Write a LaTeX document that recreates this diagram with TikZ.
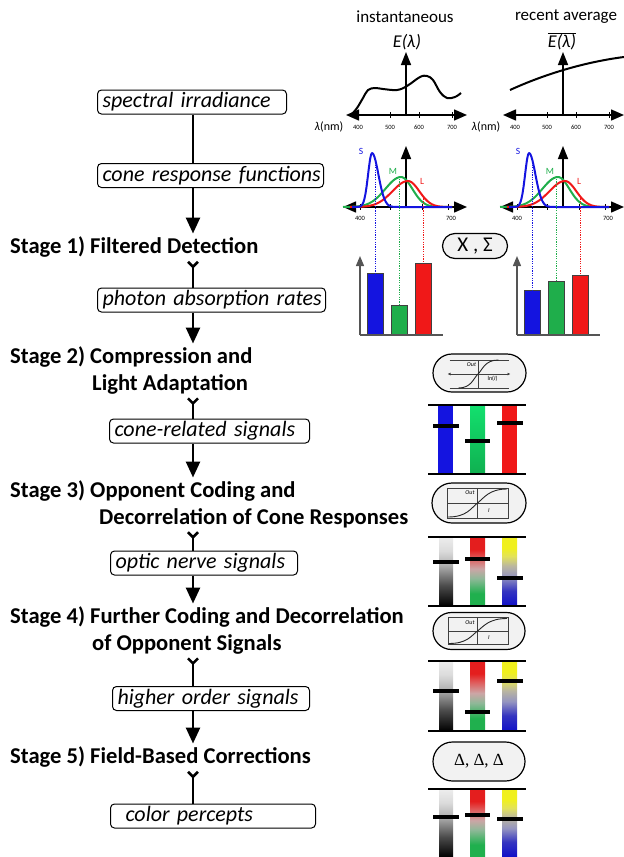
\documentclass[tikz,border=0pt]{standalone}
\usepackage{fontspec}
\setmainfont{Carlito}
\newfontfamily\timesgreek{Liberation Serif}
\usetikzlibrary{arrows.meta,shapes.misc}
\definecolor{sblue}{HTML}{1414E0}
\definecolor{mgreen}{HTML}{1FAE4B}
\definecolor{lred}{HTML}{F01818}
\definecolor{pillfill}{HTML}{F2F2F2}
\definecolor{axisgray}{HTML}{555555}
\definecolor{gtop}{HTML}{12E06E}
\definecolor{gbase}{HTML}{10B050}
% vertical ramps for the opponent channels (stops from bottom, 25bp..75bp span the bar)
\pgfdeclareverticalshading{achroramp}{100bp}{color(0bp)=(black); color(25bp)=(black);
  color(40bp)=(black!70); color(55bp)=(black!30); color(65bp)=(black!14); color(75bp)=(black!7); color(100bp)=(black!7)}
\definecolor{rgA}{HTML}{20B04E}
\definecolor{rgB}{HTML}{8FB898}
\definecolor{rgC}{HTML}{CCA6A6}
\definecolor{rgD}{HTML}{E05A5A}
\definecolor{rgE}{HTML}{E41E1E}
\pgfdeclareverticalshading{rgramp}{100bp}{color(0bp)=(rgA); color(25bp)=(rgA); color(34bp)=(rgA);
  color(45bp)=(rgB); color(52bp)=(rgC); color(60bp)=(rgD); color(66bp)=(rgE); color(75bp)=(rgE); color(100bp)=(rgE)}
\definecolor{ybA}{HTML}{1010C8}
\definecolor{ybB}{HTML}{3434C0}
\definecolor{ybC}{HTML}{9494C0}
\definecolor{ybD}{HTML}{BAB6A0}
\definecolor{ybE}{HTML}{E2E25A}
\definecolor{ybF}{HTML}{F0F01E}
\pgfdeclareverticalshading{ybramp}{100bp}{color(0bp)=(ybA); color(25bp)=(ybA); color(36bp)=(ybB);
  color(46bp)=(ybC); color(54bp)=(ybD); color(61bp)=(ybE); color(67bp)=(ybF); color(75bp)=(ybF); color(100bp)=(ybF)}
\begin{document}
\begin{tikzpicture}[x=1pt,y=-1pt,
  spineline/.style={line width=2.6pt},
  flowarrow/.style={spineline,-{Triangle[length=16pt,width=14pt]},shorten >=3pt},
  tailarrow/.style={spineline,{Straight Barb[reversed,length=5pt,width=10pt]}-,shorten <=3pt},
  sigbox/.style={draw, line width=1pt, rounded corners=4pt, anchor=west, align=left,
    inner xsep=5pt, inner ysep=1pt, minimum height=24pt,
    font=\itshape\fontsize{22}{24}\selectfont},
  stagetext/.style={anchor=west, inner sep=0pt, font=\bfseries\fontsize{22.6}{25}\selectfont},
  toplabel/.style={font=\fontsize{17}{19}\selectfont},
  plotaxis/.style={line width=1.5pt},
  twotips/.style={{Triangle[length=13pt,width=11pt]}-{Triangle[length=13pt,width=11pt]}},
  uptip/.style={-{Triangle[length=13pt,width=10pt]}},
  tickmark/.style={line width=0.8pt},
  ticklabel/.style={font=\fontsize{6.5}{7}\selectfont, inner sep=0pt},
  response/.style={line width=2pt, line join=round},
  guide/.style={line width=0.9pt, dash pattern=on 1.2pt off 1.2pt},
  chartaxis/.style={line width=1.3pt, draw=axisgray},
  barframe/.style={draw=black!75, line width=0.8pt},
  pill/.style={rounded rectangle, draw, line width=1.2pt, fill=pillfill, inner sep=0pt},
  iconline/.style={line width=0.7pt, draw=black!75},
  iconcurve/.style={line width=0.9pt, draw=black!85},
  iconlabel/.style={font=\itshape\fontsize{6}{7}\selectfont, inner sep=0pt},
  panelrule/.style={line width=2pt},
  level/.style={line width=3.2pt}
]
\useasboundingbox (0,0) rectangle (624,857);

% ---------------- processing chain ----------------
\coordinate (spine) at (193,0);
\node[sigbox, text width=179pt] (spec) at (97,102) {\mbox{spectral irradiance}};
\node[sigbox, text width=216pt] (coneresp) at (97,175.5) {\mbox{cone response functions}};
\node[stagetext] (st1) at (10,247) {Stage 1) Filtered Detection};
\node[sigbox, text width=218pt] (photon) at (97,300) {\mbox{photon absorption rates}};
\node[stagetext] (st2a) at (10,357) {Stage 2) Compression and};
\node[stagetext] (st2b) at (92,384) {Light Adaptation};
\node[sigbox, text width=190pt] (conesig) at (109,431) {\mbox{cone-related signals}};
\node[stagetext] (st3a) at (10,491) {Stage 3) Opponent Coding and};
\node[stagetext] (st3b) at (99,518) {Decorrelation of Cone Responses};
\node[sigbox, text width=177pt] (optic) at (110,563) {\mbox{optic nerve signals}};
\node[stagetext] (st4a) at (10,617) {Stage 4) Further Coding and Decorrelation};
\node[stagetext] (st4b) at (92,644) {of Opponent Signals};
\node[sigbox, text width=187pt] (higher) at (112,698.5) {\mbox{higher order signals}};
\node[stagetext] (st5) at (10,757) {Stage 5) Field-Based Corrections};
\node[sigbox, text width=195pt] (percept) at (110,816) {\mbox{\hspace*{10pt}color percepts}};

\draw[spineline] (spec.south -| spine) -- (coneresp.north -| spine);
\draw[flowarrow] (coneresp.south -| spine) -- (st1.north -| spine);
\draw[tailarrow] (st1.south -| spine) -- (photon.north -| spine);
\draw[flowarrow] (photon.south -| spine) -- (st2a.north -| spine);
\draw[tailarrow] (st2b.south -| spine) -- (conesig.north -| spine);
\draw[flowarrow] (conesig.south -| spine) -- (st3a.north -| spine);
\draw[tailarrow] (st3b.south -| spine) -- (optic.north -| spine);
\draw[flowarrow] (optic.south -| spine) -- (st4a.north -| spine);
\draw[tailarrow] (st4b.south -| spine) -- (higher.north -| spine);
\draw[flowarrow] (higher.south -| spine) -- (st5.north -| spine);
\draw[tailarrow] (st5.south -| spine) -- (percept.north -| spine);

% ---------------- spectral irradiance plots ----------------
\node[toplabel] (instlbl) at (405,17) {instantaneous};
\node[toplabel] (avglbl) at (566,17) {recent average};
\node[font=\itshape\fontsize{18}{20}\selectfont] (elbl) at (407,42) {E(λ)};
\node[font=\itshape\fontsize{18}{20}\selectfont] (ebarlbl) at (562,41) {$\overline{\hbox{\itshape E(λ)}}$};

\foreach \dx in {0,157} {
  \begin{scope}[shift={(\dx,0)}]
    \draw[plotaxis, twotips] (346,115) -- (467,115);
    \draw[plotaxis, uptip] (406,115) -- (406,52);
    \foreach \t/\lab in {358/400,390/500,419/600,452/700} {
      \draw[tickmark] (\t,112) -- (\t,118);
      \node[ticklabel] (tick-\dx-\lab) at (\t,127) {\lab};
    }
    \node[font=\fontsize{12}{13}\selectfont, inner sep=0pt] (nm-\dx) at (329,127) {\textit{λ}(nm)};
  \end{scope}
}
% instantaneous spectrum
\draw[line width=2pt, line join=round] plot[smooth, tension=0.6] coordinates {
  (351,115) (357,108) (363,98) (368,90) (375,88) (383,89) (397,90) (407,86)
  (420,77) (427,76) (433,80) (440,92) (447,98) (455,97) (461,93)};
% running average spectrum
\draw[line width=2pt] (510,90) .. controls (545,74) and (585,62) .. (624,57);

% ---------------- cone response functions and absorptions ----------------
\foreach \dx/\hb/\hg/\hr in {0/273/305/263, 157/290/281/275} {
  \begin{scope}[shift={(\dx,0)}]
    \draw[plotaxis, twotips] (343,207) -- (467,207);
    \draw[plotaxis, uptip] (406,207) -- (406,146);
    \foreach \t in {360,390,422,448} {
      \draw[tickmark] (\t,204) -- (\t,210);
    }
    \node[ticklabel] (low-\dx) at (360,218) {400};
    \node[ticklabel] (high-\dx) at (451,218) {700};
    % response curves
    \draw[response, mgreen] plot[domain=343:452, samples=80]
      (\x, {207-30*exp(-((\x-401)/ifthenelse(\x<401,22,16))^2)});
    \draw[response, lred] plot[domain=350:452, samples=80]
      (\x, {207-26*exp(-((\x-408)/ifthenelse(\x<408,22,16))^2)});
    \draw[response, sblue] plot[domain=352:452, samples=90]
      (\x, {207-54*exp(-((\x-372)/ifthenelse(\x<372,5.5,9))^2)});
    \node[font=\fontsize{9.5}{10}\selectfont, text=sblue, inner sep=0pt] (slbl-\dx) at (361,151) {S};
    \node[font=\fontsize{9.5}{10}\selectfont, text=mgreen, inner sep=0pt] (mlbl-\dx) at (393,171) {M};
    \node[font=\fontsize{9.5}{10}\selectfont, text=lred, inner sep=0pt] (llbl-\dx) at (422,181) {L};
    % absorption bars
    \draw[barframe, fill=sblue] (367,\hb) rectangle (383,335);
    \draw[barframe, fill=mgreen] (391,\hg) rectangle (407,335);
    \draw[barframe, fill=lred] (415,\hr) rectangle (431,335);
    \draw[guide, sblue] (375,160) -- (375,\hb);
    \draw[guide, mgreen] (399,179) -- (399,\hg);
    \draw[guide, lred] (423,196) -- (423,\hr);
    \draw[chartaxis] (360,335) -- (443,335);
    \draw[chartaxis, -{Triangle[length=10pt,width=8pt]}] (360,335) -- (360,256);
  \end{scope}
}
\node[pill, minimum width=65pt, minimum height=25pt, font=\fontsize{21}{23}\selectfont] (mixer) at (475,246) {X , Σ};

% ---------------- right column: stage operations ----------------
% Stage 2: compressive nonlinearity on ln(I)
\node[pill, minimum width=93pt, minimum height=38pt] (compicon) at (479.5,373) {};
\begin{scope}[shift={(compicon.center)}]
  \draw[iconline] (-30,-13) -- (29,-13);
  \draw[iconline] (-30,15) -- (29,15);
  \draw[iconline, {Latex[length=3pt,width=3pt]}-{Latex[length=3pt,width=3pt]}] (-32,1) -- (31,1);
  \draw[iconline] (-1.5,-13) -- (-1.5,15);
  \draw[iconcurve] (-21,15) .. controls (-8,15) and (-6,5) .. (-1.5,1) .. controls (3,-3) and (5,-13) .. (19,-13);
  \node[iconlabel] (compout) at (-8,-8) {Out};
  \node[iconlabel, font=\fontsize{6}{7}\selectfont] (compin) at (13,6) {ln(\textit{I})};
\end{scope}

% Stage 3: opponent transform
\node[pill, minimum width=94pt, minimum height=40pt] (opponicon) at (479,503) {};
\begin{scope}[shift={(opponicon.center)}]
  \draw[iconline] (-32,-15) rectangle (29,15);
  \draw[iconline] (-32,0) -- (29,0);
  \draw[iconline] (-1.5,-15) -- (-1.5,15);
  \draw[iconcurve] (-31,14) .. controls (-12,14) and (-8,5) .. (-1.5,0) .. controls (5,-5) and (10,-14) .. (28,-14);
  \node[iconlabel] (oppout) at (-9,-10) {Out};
  \node[iconlabel] (oppin) at (10,8) {I};
\end{scope}

% Stage 4: further decorrelation
\node[pill, minimum width=92pt, minimum height=37pt] (decoricon) at (479,631) {};
\begin{scope}[shift={(decoricon.center)}]
  \draw[iconline] (-31,-13.5) rectangle (29,13.5);
  \draw[iconline] (-31,0) -- (29,0);
  \draw[iconline] (-1.5,-13.5) -- (-1.5,13.5);
  \draw[iconcurve] (-30,12.5) .. controls (-12,12.5) and (-8,5) .. (-1.5,0) .. controls (5,-5) and (10,-12.5) .. (28,-12.5);
  \node[iconlabel] (decout) at (-9,-8) {Out};
  \node[iconlabel] (decin) at (10,7) {I};
\end{scope}

% Stage 5: field-based corrections
\node[pill, minimum width=92pt, minimum height=39pt, font=\timesgreek\fontsize{17}{19}\selectfont] (fieldicon) at (479,761.5) {Δ, Δ, Δ};

% ---------------- signal level panels ----------------
% cone-related signals
\fill[sblue] (438,405) rectangle (453,474);
\shade[top color=gtop, bottom color=gbase] (470,405) rectangle (485,474);
\fill[lred] (502,405) rectangle (517,474);
\draw[panelrule] (428,405) -- (526,405) (428,474) -- (526,474);
\draw[level] (433,426) -- (459,426) (465,441) -- (490,441) (497,423) -- (523,423);

% optic nerve signals
\shade[shading=achroramp] (439,537) rectangle (453,606);
\shade[shading=rgramp] (470,537) rectangle (485,606);
\shade[shading=ybramp] (502,537) rectangle (517,606);
\draw[panelrule] (428,537) -- (526,537) (428,606) -- (526,606);
\draw[level] (433,562) -- (459,562) (465,559) -- (490,559) (497,578) -- (523,578);

% higher order signals
\shade[shading=achroramp] (439,661) rectangle (453,731);
\shade[shading=rgramp] (470,661) rectangle (485,731);
\shade[shading=ybramp] (502,661) rectangle (517,731);
\draw[panelrule] (428,661) -- (526,661) (428,731) -- (526,731);
\draw[level] (433,691) -- (459,691) (465,712) -- (490,712) (497,681) -- (523,681);

% color percepts
\shade[shading=achroramp] (439,789) rectangle (453,857);
\shade[shading=rgramp] (470,789) rectangle (485,857);
\shade[shading=ybramp] (502,789) rectangle (517,857);
\draw[panelrule] (428,789) -- (526,789);
\draw[level] (433,817) -- (459,817) (465,815) -- (490,815) (497,819) -- (523,819);
\end{tikzpicture}
\end{document}
